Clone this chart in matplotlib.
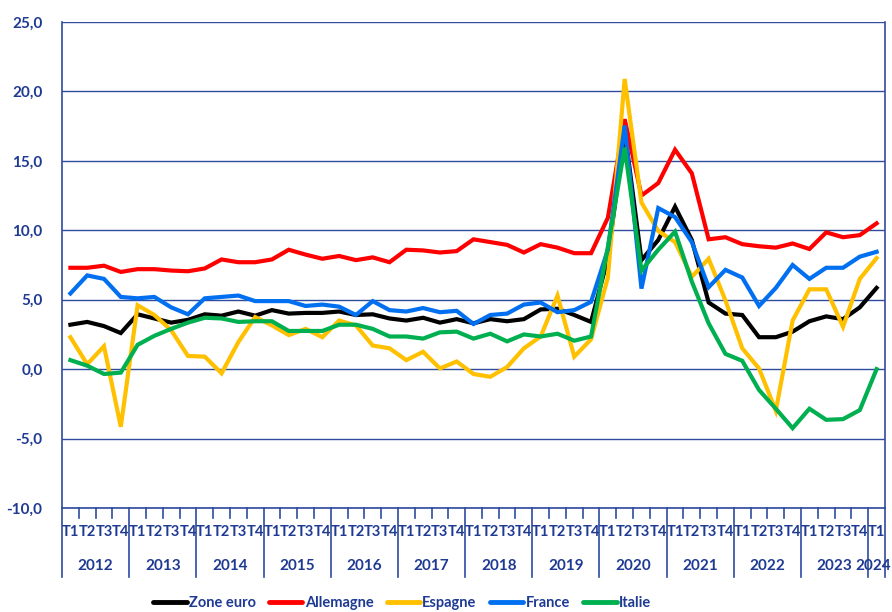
import matplotlib
matplotlib.use("Agg")
import matplotlib.pyplot as plt

plt.rcParams['font.family'] = ['Lato', 'DejaVu Sans']

years = ["2012", "2013", "2014", "2015", "2016", "2017", "2018",
         "2019", "2020", "2021", "2022", "2023", "2024"]
quarters = ["T1", "T2", "T3", "T4"]
n_points = 49  # 2012 T1 .. 2024 T1

zone_euro = [3.2, 3.4, 3.1, 2.6, 3.95, 3.65, 3.35, 3.55, 3.95, 3.85, 4.15, 3.85,
             4.25, 4.0, 4.05, 4.05, 4.15, 3.9, 3.95, 3.65, 3.5, 3.7, 3.35, 3.6,
             3.3, 3.6, 3.45, 3.6, 4.3, 4.35, 3.9, 3.4, 8.0, 17.2, 7.85, 9.3,
             11.7, 9.3, 4.8, 4.0, 3.9, 2.3, 2.3, 2.7, 3.45, 3.8, 3.6, 4.45, 5.85]
allemagne = [7.3, 7.3, 7.45, 7.0, 7.2, 7.2, 7.1, 7.05, 7.25, 7.9, 7.7, 7.7,
             7.9, 8.6, 8.25, 7.95, 8.15, 7.85, 8.05, 7.7, 8.6, 8.55, 8.4, 8.5,
             9.35, 9.15, 8.95, 8.4, 9.0, 8.75, 8.35, 8.35, 10.9, 18.0, 12.5, 13.4,
             15.8, 14.1, 9.35, 9.5, 9.0, 8.85, 8.75, 9.05, 8.65, 9.85, 9.5, 9.65, 10.5]
espagne = [2.3, 0.35, 1.65, -4.15, 4.6, 3.9, 2.8, 0.95, 0.9, -0.3, 1.95, 3.75,
           3.15, 2.45, 2.9, 2.3, 3.5, 3.15, 1.7, 1.5, 0.65, 1.25, 0.05, 0.55,
           -0.35, -0.55, 0.15, 1.5, 2.35, 5.3, 0.9, 2.15, 6.6, 20.9, 12.0, 9.95,
           9.15, 6.65, 7.95, 4.95, 1.5, 0.05, -3.0, 3.5, 5.75, 5.75, 3.05, 6.5, 8.0]
france = [5.45, 6.75, 6.5, 5.2, 5.1, 5.2, 4.45, 3.95, 5.1, 5.2, 5.3, 4.9,
          4.9, 4.9, 4.55, 4.65, 4.5, 3.9, 4.9, 4.25, 4.15, 4.4, 4.1, 4.2,
          3.25, 3.9, 4.0, 4.65, 4.8, 4.1, 4.25, 4.85, 8.6, 17.55, 5.8, 11.6,
          10.95, 9.15, 5.9, 7.15, 6.6, 4.55, 5.85, 7.5, 6.5, 7.3, 7.3, 8.1, 8.45]
italie = [0.65, 0.25, -0.35, -0.25, 1.75, 2.4, 2.9, 3.35, 3.7, 3.65, 3.4, 3.45,
          3.45, 2.75, 2.75, 2.75, 3.2, 3.2, 2.9, 2.35, 2.35, 2.2, 2.65, 2.7,
          2.2, 2.55, 2.0, 2.5, 2.35, 2.55, 2.05, 2.35, 8.8, 15.95, 7.1, 8.6,
          9.9, 6.3, 3.3, 1.1, 0.6, -1.5, -2.85, -4.25, -2.85, -3.65, -3.6, -2.95, 0.0]

series = [("Zone euro", zone_euro, "#000000"),
          ("Allemagne", allemagne, "#FF0000"),
          ("Espagne", espagne, "#FFC000"),
          ("France", france, "#0070F0"),
          ("Italie", italie, "#00B050")]

blue = "#1F3A93"
grid_blue = "#2E4C9E"

fig = plt.figure(figsize=(8.92, 6.12), dpi=100)
ax = fig.add_axes([62 / 892, 1 - 508 / 612, (885 - 62) / 892, (508 - 22) / 612])

x = list(range(n_points))
for name, vals, col in series:
    ax.plot(x, vals, color=col, lw=3.0, label=name, solid_joinstyle="miter")

ax.set_xlim(-0.5, n_points - 0.5)
ax.set_ylim(-10, 25)
ax.set_yticks(range(-10, 26, 5))
ax.set_yticklabels([f"{v:.1f}".replace(".", ",") for v in range(-10, 26, 5)],
                   color=blue, fontsize=11, fontweight="bold")
ax.tick_params(axis="y", length=0, pad=14)
ax.set_xticks([])
ax.yaxis.grid(True, color=grid_blue, lw=1.0)
ax.set_axisbelow(True)
for s in ["left", "right", "bottom"]:
    ax.spines[s].set_color(grid_blue)
    ax.spines[s].set_linewidth(1.2)
ax.spines["top"].set_visible(False)

# category axis: quarter labels, year labels and separators
tr = ax.get_xaxis_transform()
for i in range(n_points):
    ax.text(i, -0.049, quarters[i % 4], transform=tr, ha="center", va="center",
            color=blue, fontsize=10.5, fontweight="bold")
for k in range(n_points + 1):
    xb = k - 0.5
    low = -0.142 if k % 4 == 0 or k == n_points else -0.0206
    ax.plot([xb, xb], [0, low], transform=tr, color=grid_blue, lw=1.2, clip_on=False)
for j, yr in enumerate(years):
    start = j * 4
    end = min(start + 4, n_points)
    if end - start < 4:
        # last (partial) year: keep the label inside the figure
        fig.text(891 / 892, 1 - 566 / 612, yr, ha="right", va="center",
                 color=blue, fontsize=11, fontweight="bold")
        continue
    ax.text((start + end - 1) / 2, -0.119, yr, transform=tr, ha="center", va="center",
            color=blue, fontsize=11, fontweight="bold")

leg = fig.legend(loc="center", bbox_to_anchor=(402 / 892, 1 - 603 / 612), ncol=5,
                 frameon=False, handlelength=2.3, handletextpad=0.15,
                 columnspacing=0.9, prop={"size": 10.5, "weight": "bold"})
for t in leg.get_texts():
    t.set_color(blue)
for h in leg.get_lines():
    h.set_linewidth(3.5)
    h.set_solid_capstyle("round")

fig.savefig("out.png", dpi=100)
